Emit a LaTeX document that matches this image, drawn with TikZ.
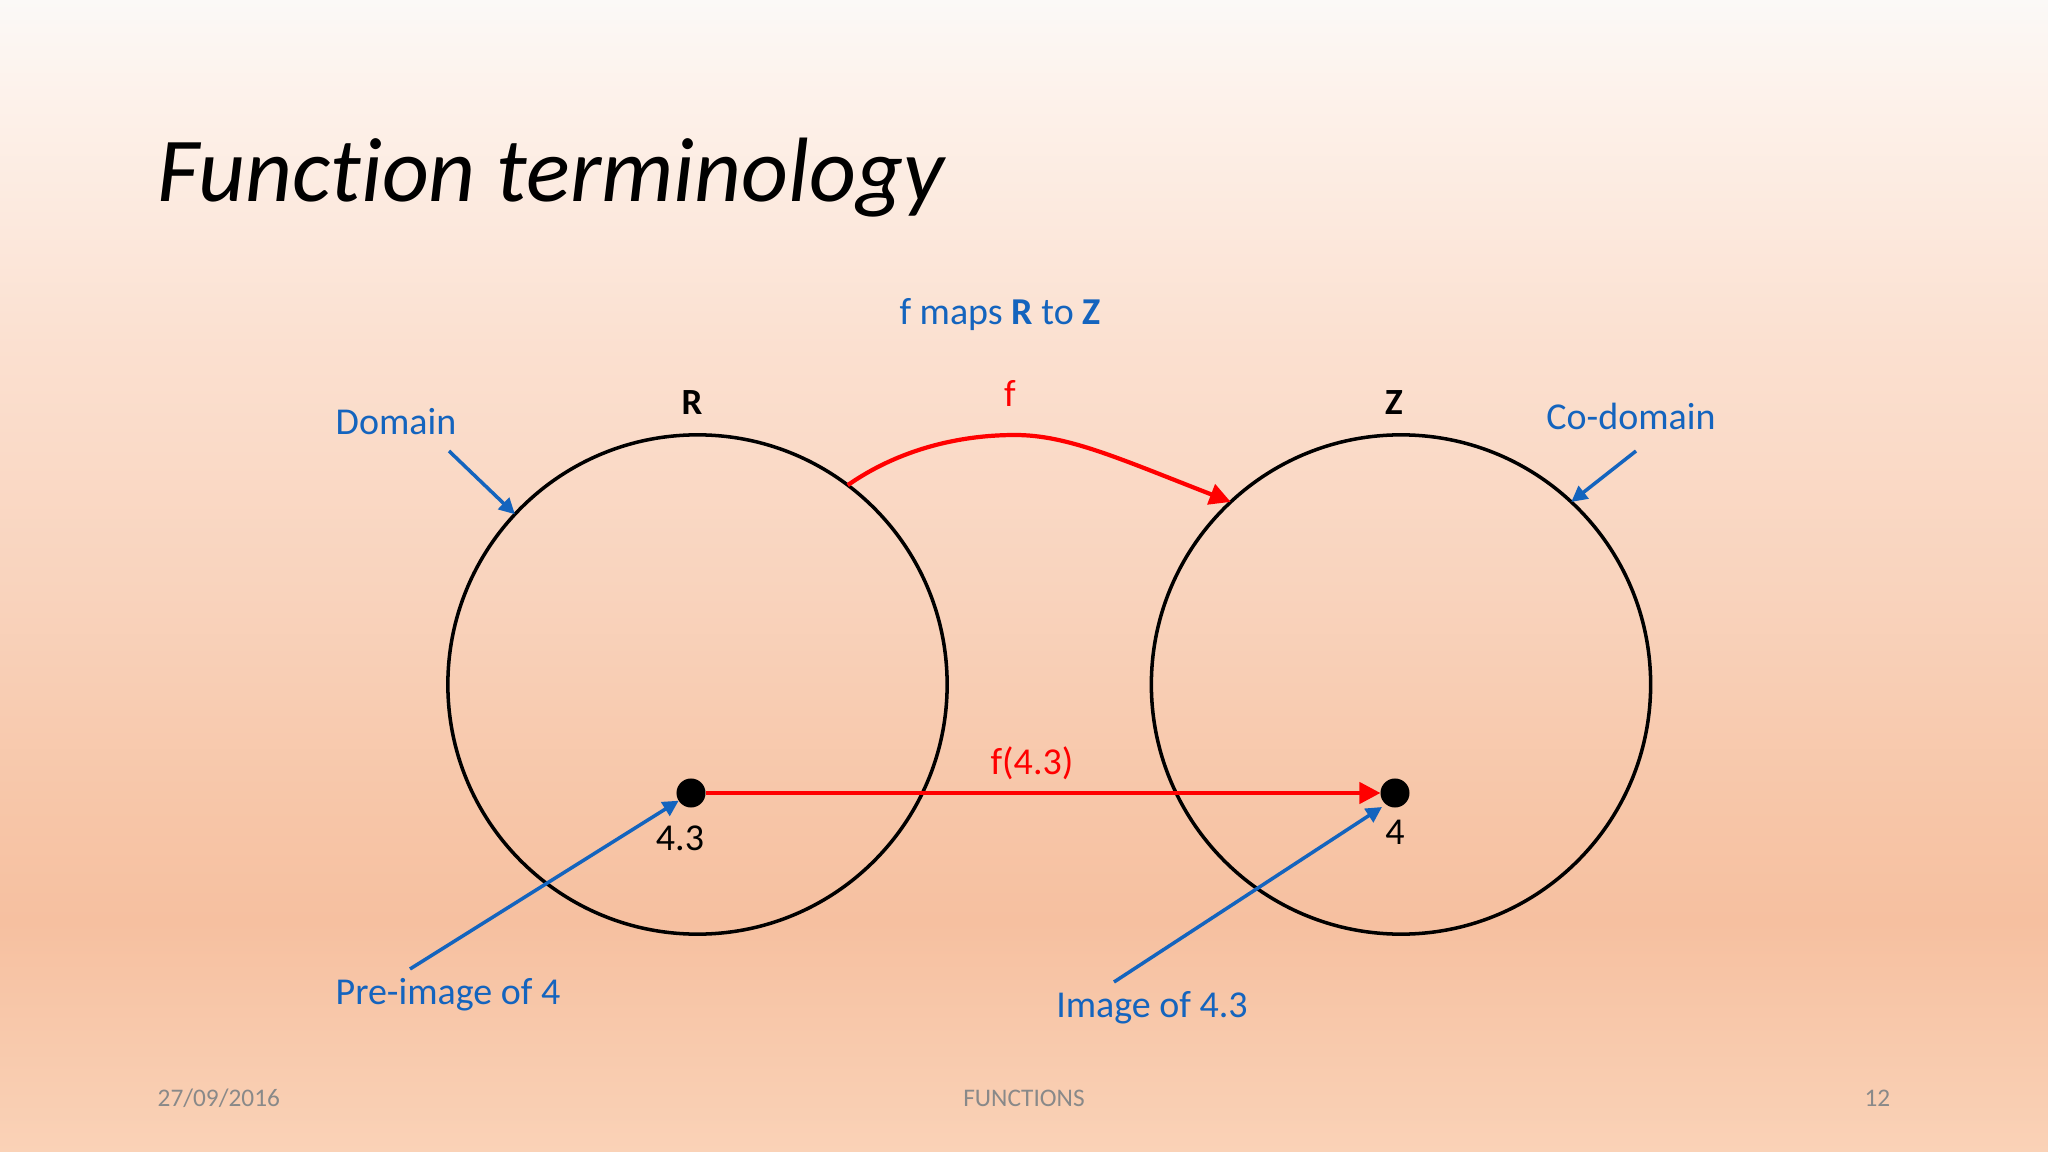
\documentclass[tikz,border=0pt]{standalone}
\usepackage{fontspec}
\setmainfont{Carlito}[Ligatures={TeX,NoCommon}]
\usepackage{xcolor}
\usepackage{tikz}
\usetikzlibrary{arrows.meta}

\definecolor{bgtop}{RGB}{251,249,247}
\definecolor{bgmida}{RGB}{253,242,235}
\definecolor{bgmidb}{RGB}{251,224,208}
\definecolor{bgmidc}{RGB}{249,212,190}
\definecolor{bgmidd}{RGB}{247,198,168}
\definecolor{bgdark}{RGB}{246,192,160}
\definecolor{bgbot}{RGB}{250,210,183}
\definecolor{noteblue}{RGB}{20,100,190}
\definecolor{footgray}{RGB}{137,137,137}

\pgfdeclareverticalshading{slidebg}{100bp}{color(0bp)=(bgbot); color(25bp)=(bgbot); color(35bp)=(bgdark); color(40bp)=(bgmidd); color(50bp)=(bgmidc); color(60bp)=(bgmidb); color(71bp)=(bgmida); color(75bp)=(bgtop); color(100bp)=(bgtop)}

\begin{document}
\begin{tikzpicture}[x=0.01cm,y=-0.01cm]
\tikzstyle{setcirc} = [circle,draw=black,line width=1pt,minimum size=4.99cm,inner sep=0,outer sep=0];
\tikzstyle{elem} = [circle,fill=black,minimum size=0.29cm,inner sep=0,outer sep=0];
\tikzstyle{setname} = [font=\fontsize{10.5}{12}\selectfont\bfseries,anchor=base,inner sep=0];
\tikzstyle{note} = [font=\fontsize{10.8}{13}\selectfont,color=noteblue,anchor=base,inner sep=0];
\tikzstyle{val} = [font=\fontsize{10.8}{13}\selectfont,anchor=base,inner sep=0];
\tikzstyle{fname} = [font=\fontsize{10.8}{13}\selectfont,color=red,anchor=base,inner sep=0];
\tikzstyle{foot} = [font=\fontsize{7.2}{9}\selectfont,color=footgray,inner sep=0];
\tikzstyle{arr} = [line width=1pt,noteblue,-{Triangle[length=4.5pt,width=4.5pt]}];
\tikzstyle{maparr} = [line width=1.2pt,red,-{Triangle[length=6pt,width=6pt]}];
\useasboundingbox (0,0) rectangle (2048,1152);
\shade[shading=slidebg] (0,0) rectangle (2048,1152);
\node [anchor=base west,inner sep=0,font=\fontsize{26}{30}\selectfont\itshape] (head) at (157,202) {Function terminology};
\node [note] (maps) at (1000,325) {f maps \textbf{R} to \textbf{Z}};
\node [setcirc] (setR) at (697.5,684.5) {};
\node [setcirc] (setZ) at (1401,684.5) {};
\node [setname] (nameR) at (692,415) {R};
\node [setname] (nameZ) at (1394,415) {Z};
\node [fname] (fcurve) at (1010,407) {f};
\node [note] (dom) at (396,435) {Domain};
\node [note] (cod) at (1631,430) {Co-domain};
\node [elem] (x43) at (691,793) {};
\node [elem] (y4) at (1395,793) {};
\node [val] (v43) at (680,850) {4.3};
\node [val] (v4) at (1395,844) {4};
\node [fname] (fval) at (1032,774) {f(4.3)};
\node [note] (pre) at (448,1004) {Pre-image of 4};
\node [note] (img) at (1152,1017) {Image of 4.3};
\coordinate (domtail) at (449,451);
\coordinate (codtail) at (1636,451);
\coordinate (pretail) at (410,969);
\coordinate (imgtail) at (1114,982);
\coordinate (imghead) at (1382,807);
\draw [maparr] (setR.53) .. controls (898,450) and (958,435) .. (1015,435)
  .. controls (1068,435) and (1120,459) .. (setZ.133);
\draw [maparr] (x43) -- (y4);
\draw [arr] (domtail) -- (setR.137);
\draw [arr] (codtail) -- (setZ.47);
\draw [arr] (pretail) -- (x43);
\draw [arr] (imgtail) -- (imghead);
\node [foot,anchor=base west] (date) at (157,1106) {27/09/2016};
\node [foot,anchor=base] (topic) at (1024,1106) {FUNCTIONS};
\node [foot,anchor=base east] (page) at (1891,1106) {12};
\end{tikzpicture}
\end{document}
